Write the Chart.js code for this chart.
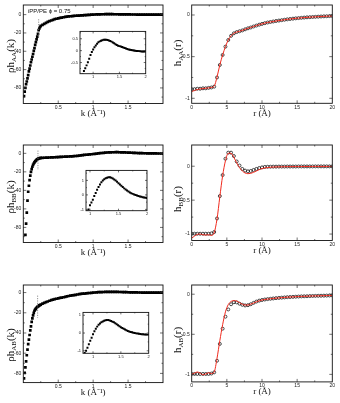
<!DOCTYPE html>
<html><head><meta charset="utf-8">
<script src="https://cdn.jsdelivr.net/npm/chart.js@4.4.1/dist/chart.umd.min.js"></script>
<style>
html,body{margin:0;padding:0;background:#fff;}
#wrap{position:relative;width:340px;height:403px;overflow:hidden;font-family:"Liberation Serif",serif;}
canvas{position:absolute;}
.yt{position:absolute;white-space:nowrap;font-size:11px;color:#111;transform:translate(-50%,-50%) rotate(-90deg);line-height:1;}
.yt sub{font-size:7px;vertical-align:-2px;}
.note{position:absolute;font-family:"Liberation Sans",sans-serif;font-size:6px;color:#111;white-space:nowrap;}
</style></head><body><div id="wrap"></div>
<script>
// k grid (1/A) shared by the three structure-factor panels and their insets
var kMain = [0.01,0.02,0.03,0.04,0.05,0.06,0.07,0.08,0.09,0.10,0.11,0.12,0.13,0.14,0.15,0.16,0.17,0.18,0.19,0.20,0.21,0.22,0.23,0.24,0.25,
  0.275,0.3,0.325,0.35,0.375,0.4,0.425,0.45,0.475,0.5,
  0.525,0.55,0.575,0.6,0.625,0.65,0.675,0.7,0.725,0.75,
  0.775,0.8,0.825,0.85,0.875,0.9,0.925,0.95,0.975,1.0,
  1.025,1.05,1.075,1.1,1.125,1.15,1.175,1.2,1.225,1.25,
  1.275,1.3,1.325,1.35,1.375,1.4,1.425,1.45,1.475,1.5,
  1.525,1.55,1.575,1.6,1.625,1.65,1.675,1.7,1.725,1.75,
  1.775,1.8,1.825,1.85,1.875,1.9,1.925,1.95,1.975,2.0];

var rhoAA = [-89,-84,-80,-76,-73,-69.5,-66,-62,-59,-55.5,-52,-49,-46,-43,-39.5,-36.5,-33,-30,-27,-24,-21,-17,-15,-13.5,-12.3,
  -11.2,-10.0,-9.0,-8.0,-7.2,-6.4,-5.7,-5.0,-4.5,-4.0,
  -3.6,-3.2,-2.85,-2.5,-2.25,-2.0,-1.8,-1.6,-1.4,-1.25,
  -1.12,-1.0,-0.86,-0.74,-0.62,-0.49,-0.34,-0.18,-0.06,0.05,
  0.14,0.22,0.29,0.35,0.39,0.42,0.44,0.455,0.46,0.46,
  0.45,0.43,0.41,0.38,0.34,0.31,0.27,0.24,0.21,0.19,
  0.17,0.15,0.13,0.11,0.09,0.07,0.05,0.04,0.03,0.02,
  0.01,0.0,-0.01,-0.015,-0.02,-0.03,-0.035,-0.04,-0.04,-0.04];

var rhoBB = [null,null,-88,-76,-64,-51,-41.5,-35,-29,-24,-20,-17,-14.5,-12.5,-11,-9.7,-8.7,-7.8,-7.0,-6.4,-5.9,-5.5,-5.3,-5.1,-5.0,
  -4.9,-4.8,-4.7,-4.6,-4.5,-4.4,-4.3,-4.2,-4.1,-4.0,
  -3.9,-3.8,-3.7,-3.6,-3.5,-3.4,-3.3,-3.2,-3.05,-2.9,
  -2.7,-2.5,-2.25,-2.0,-1.75,-1.5,-1.3,-1.15,-1.0,-0.72,
  -0.52,-0.33,-0.07,0.13,0.36,0.55,0.72,0.88,0.99,1.08,
  1.15,1.19,1.21,1.21,1.18,1.13,1.07,0.99,0.9,0.81,
  0.72,0.63,0.54,0.45,0.37,0.3,0.23,0.17,0.12,0.07,
  0.03,-0.01,-0.04,-0.08,-0.11,-0.13,-0.16,-0.18,-0.2,-0.22];

var rhoAB = [-85,-79.5,-74,-68,-62,-56.5,-51,-46.5,-42,-37.5,-33.5,-29,-25.5,-22.5,-20,-18,-16.8,-15.8,-15,-14.3,-13.7,-13.2,-12.7,-12.3,-11.9,
  -11.0,-10.2,-9.5,-8.8,-8.1,-7.5,-7.0,-6.5,-6.1,-5.7,
  -5.3,-5.0,-4.6,-4.2,-3.8,-3.4,-3.1,-2.8,-2.5,-2.2,
  -1.9,-1.6,-1.35,-1.12,-1.0,-0.83,-0.63,-0.44,-0.26,-0.07,
  0.1,0.24,0.36,0.46,0.54,0.6,0.65,0.69,0.72,0.73,
  0.73,0.71,0.68,0.64,0.6,0.55,0.49,0.44,0.38,0.33,
  0.28,0.24,0.2,0.16,0.12,0.09,0.06,0.04,0.02,0.0,
  -0.02,-0.03,-0.045,-0.055,-0.065,-0.075,-0.08,-0.085,-0.09,-0.09];

// dotted markers near k ~ 0.2
var dashKAA = [0.22, 0.22], dashAA = [-5, -26];
var dashKBB = [0.21, 0.21], dashBB = [3, -18];
var dashKAB = [0.205, 0.205], dashAB = [-3, -25];

// r grid (A) for the pair correlation panels
var rGrid = [0,0.4,0.8,1.2,1.6,2,2.4,2.8,3.2,3.6,
  4,4.4,4.8,5.2,5.6,6,6.4,6.8,7.2,7.6,
  8,8.4,8.8,9.2,9.6,10,10.4,10.8,11.2,11.6,
  12,12.4,12.8,13.2,13.6,14,14.4,14.8,15.2,15.6,
  16,16.4,16.8,17.2,17.6,18,18.4,18.8,19.2,19.6,
  20];

var hAAsim = [-0.89,-0.89,-0.885,-0.885,-0.88,-0.88,-0.875,-0.87,-0.86,-0.75,
  -0.6,-0.48,-0.38,-0.3,-0.25,-0.22,-0.205,-0.195,-0.185,-0.172,
  -0.16,-0.15,-0.138,-0.127,-0.116,-0.107,-0.098,-0.09,-0.084,-0.078,
  -0.072,-0.067,-0.062,-0.057,-0.052,-0.048,-0.044,-0.04,-0.037,-0.034,
  -0.031,-0.028,-0.026,-0.024,-0.022,-0.02,-0.018,-0.016,-0.015,-0.013,
  -0.012];
var hAAthe = [-0.92,-0.905,-0.895,-0.888,-0.883,-0.879,-0.875,-0.87,-0.855,-0.745,
  -0.6,-0.48,-0.38,-0.3,-0.25,-0.22,-0.205,-0.195,-0.185,-0.172,
  -0.16,-0.15,-0.138,-0.127,-0.116,-0.107,-0.098,-0.09,-0.084,-0.078,
  -0.072,-0.067,-0.062,-0.057,-0.052,-0.048,-0.044,-0.04,-0.037,-0.034,
  -0.031,-0.028,-0.026,-0.024,-0.022,-0.02,-0.018,-0.016,-0.015,-0.013,
  -0.012];

var hBBsim = [-0.995,-0.995,-0.995,-0.995,-0.995,-0.995,-0.995,-0.99,-0.97,-0.77,
  -0.44,-0.13,0.11,0.2,0.2,0.15,0.07,0.01,-0.04,-0.065,
  -0.075,-0.07,-0.055,-0.04,-0.027,-0.017,-0.01,-0.008,-0.007,-0.006,
  -0.006,-0.005,-0.005,-0.005,-0.004,-0.004,-0.004,-0.004,-0.003,-0.003,
  -0.003,-0.003,-0.003,-0.003,-0.002,-0.002,-0.002,-0.002,-0.002,-0.002,
  -0.002];
var hBBthe = [-1.06,-1.03,-1.005,-1.0,-1.01,-1.015,-1.01,-1.02,-0.98,-0.78,
  -0.45,-0.14,0.08,0.19,0.19,0.13,0.05,-0.02,-0.07,-0.1,
  -0.11,-0.105,-0.09,-0.07,-0.05,-0.035,-0.025,-0.02,-0.015,-0.012,
  -0.01,-0.009,-0.008,-0.007,-0.006,-0.006,-0.005,-0.005,-0.005,-0.004,
  -0.004,-0.004,-0.004,-0.003,-0.003,-0.003,-0.003,-0.003,-0.003,-0.003,
  -0.003];

var hABsim = [-0.995,-0.995,-0.995,-0.995,-0.995,-0.995,-0.995,-0.99,-0.975,-0.83,
  -0.62,-0.43,-0.28,-0.19,-0.125,-0.1,-0.102,-0.118,-0.132,-0.14,
  -0.137,-0.125,-0.108,-0.092,-0.08,-0.072,-0.066,-0.061,-0.057,-0.053,
  -0.049,-0.046,-0.043,-0.04,-0.037,-0.035,-0.033,-0.031,-0.029,-0.027,
  -0.026,-0.025,-0.023,-0.022,-0.021,-0.02,-0.019,-0.018,-0.017,-0.016,
  -0.015];
var hABthe = [-1.0,-0.985,-0.97,-0.985,-1.005,-0.995,-0.98,-0.99,-0.97,-0.8,
  -0.58,-0.38,-0.22,-0.13,-0.09,-0.08,-0.085,-0.105,-0.125,-0.135,
  -0.135,-0.125,-0.11,-0.095,-0.082,-0.072,-0.066,-0.061,-0.057,-0.053,
  -0.049,-0.046,-0.043,-0.04,-0.037,-0.035,-0.033,-0.031,-0.029,-0.027,
  -0.026,-0.025,-0.023,-0.022,-0.021,-0.02,-0.019,-0.018,-0.017,-0.016,
  -0.015];

// tick labels
var kTicks = [0.5, 1, 1.5], kMinor = [0.25, 0.75, 1.25, 1.75];
var rhoTicks = [-80, -60, -40, -20, 0], rhoMinor = [-90, -70, -50, -30, -10];
var rTicks = [0, 5, 10, 15, 20], rMinor = [2.5, 7.5, 12.5, 17.5];
var hTicks = [-1, -0.5, 0], hMinor = [-0.75, -0.25];
var inKTicks = [1, 1.5, 2], inKMinor = [0.75, 1.25, 1.75];
var inAATicks = [-0.5, 0, 0.5], inAAMinor = [-0.75, -0.25, 0.25, 0.75];
var inTicks = [-1, 0, 1], inMinor = [-0.5, 0.5, 1.5];

Chart.defaults.font.family = '"Liberation Sans", sans-serif';
var wrap = document.getElementById('wrap');

function pts(xs, ys) {
  var out = [];
  xs.forEach(function (x, i) { if (ys[i] !== null) out.push({ x: x, y: ys[i] }); });
  return out;
}

// white plot background (insets), frame and inward tick marks
var frame = {
  id: 'frame',
  beforeDraw: function (c, a, o) {
    if (!o.fill) return;
    var ca = c.chartArea;
    c.ctx.fillStyle = '#fff';
    c.ctx.fillRect(ca.left, ca.top, ca.width, ca.height);
  },
  afterDraw: function (c, a, o) {
    var ctx = c.ctx, ca = c.chartArea, xs = c.scales.x, ys = c.scales.y;
    var L = o.len;
    ctx.save();
    ctx.strokeStyle = '#333';
    ctx.lineWidth = 0.7;
    ctx.beginPath();
    function xm(v, len) {
      var p = xs.getPixelForValue(v);
      if (p <= ca.left + 0.5 || p >= ca.right - 0.5) return;
      ctx.moveTo(p, ca.bottom); ctx.lineTo(p, ca.bottom - len);
      ctx.moveTo(p, ca.top); ctx.lineTo(p, ca.top + len);
    }
    function ym(v, len) {
      var p = ys.getPixelForValue(v);
      if (p <= ca.top + 0.5 || p >= ca.bottom - 0.5) return;
      ctx.moveTo(ca.left, p); ctx.lineTo(ca.left + len, p);
      ctx.moveTo(ca.right, p); ctx.lineTo(ca.right - len, p);
    }
    xs.ticks.forEach(function (t) { xm(t.value, L); });
    ys.ticks.forEach(function (t) { ym(t.value, L); });
    (o.xMinor || []).forEach(function (v) { xm(v, L / 2); });
    (o.yMinor || []).forEach(function (v) { ym(v, L / 2); });
    ctx.stroke();
    ctx.lineWidth = 0.9;
    ctx.strokeStyle = '#111';
    ctx.strokeRect(ca.left, ca.top, ca.width, ca.height);
    ctx.restore();
  }
};

// plot: [x0, y0, x1, y1] of the framed area in page pixels
function panel(o) {
  var p = o.plot, yw = o.yw, xh = o.xh;
  var left = p[0] - yw, top = p[1] - o.padTop;
  var w = Math.round(p[2] + o.padRight - left);
  var h = Math.ceil(p[3] + xh + 2 - top);
  var cv = document.createElement('canvas');
  cv.width = w; cv.height = h;
  cv.style.left = left + 'px'; cv.style.top = top + 'px';
  wrap.appendChild(cv);
  var padRight = left + w - p[2];
  var padBottom = top + h - (p[3] + xh);
  return new Chart(cv, {
    type: 'scatter',
    data: { datasets: o.datasets },
    options: {
      responsive: false, animation: false, devicePixelRatio: 1,
      layout: { padding: { left: 0, top: o.padTop, right: padRight, bottom: padBottom } },
      plugins: {
        legend: { display: false }, tooltip: { enabled: false },
        frame: { len: o.tickLen, xMinor: o.xMinor, yMinor: o.yMinor, fill: o.fill }
      },
      scales: {
        x: {
          type: 'linear', min: o.xr[0], max: o.xr[1],
          grid: { display: false, drawTicks: false }, border: { display: false },
          ticks: { font: { size: o.fs }, color: '#222', padding: 1, maxRotation: 0, autoSkip: false,
                   callback: function (v) { return String(v); } },
          afterBuildTicks: function (s) { s.ticks = o.xt.map(function (v) { return { value: v }; }); },
          afterFit: function (s) { s.height = xh; },
          title: o.xtitle ? { display: true, text: o.xtitle, color: '#111', padding: 0,
                              font: { size: 9, family: '"Liberation Serif", serif' } } : { display: false }
        },
        y: {
          type: 'linear', min: o.yr[0], max: o.yr[1],
          grid: { display: false, drawTicks: false }, border: { display: false },
          ticks: { font: { size: o.fs }, color: '#222', padding: 2, autoSkip: false,
                   callback: function (v) { return String(v); } },
          afterBuildTicks: function (s) { s.ticks = o.yt.map(function (v) { return { value: v }; }); },
          afterFit: function (s) { s.width = yw; }
        }
      }
    },
    plugins: [frame]
  });
}

function squares(vals, r) {
  return { data: pts(kMain, vals), showLine: false, pointStyle: 'rect', pointRadius: r,
           backgroundColor: '#000', borderWidth: 0, clip: 0 };
}
function dotted(kx, vy) {
  return { data: pts(kx, vy), showLine: true, borderColor: '#777', borderWidth: 0.8,
           borderDash: [1.2, 1.2], pointRadius: 0, clip: 0 };
}
function circles(vals) {
  return { data: pts(rGrid, vals), showLine: false, pointStyle: 'circle', pointRadius: 1.5,
           borderColor: '#000', borderWidth: 0.7, backgroundColor: 'rgba(0,0,0,0)', clip: 0 };
}
function theory(vals) {
  return { data: pts(rGrid, vals), showLine: true, borderColor: '#f02a1e', borderWidth: 1,
           pointRadius: 0, cubicInterpolationMode: 'monotone', clip: 0 };
}

function leftPanel(plot, yr, vals, dk, dv) {
  panel({ plot: plot, yw: 23.3, xh: 15.4, padTop: 4.3, padRight: 7, fs: 5, tickLen: 3,
          xr: [0, 2], yr: yr, xt: kTicks, yt: rhoTicks, xMinor: kMinor, yMinor: rhoMinor,
          xtitle: 'k (Å⁻¹)', datasets: [dotted(dk, dv), squares(vals, 1.9)] });
}
function rightPanel(plot, yr, sim, the) {
  panel({ plot: plot, yw: 21.7, xh: 15.4, padTop: 4.3, padRight: 7.7, fs: 5, tickLen: 3,
          xr: [0, 20], yr: yr, xt: rTicks, yt: hTicks, xMinor: rMinor, yMinor: hMinor,
          xtitle: 'r (Å)', datasets: [theory(the), circles(sim)] });
}
function inset(plot, xr, yr, vals, yt, yMinor) {
  panel({ plot: plot, yw: 11, xh: 6, padTop: 3, padRight: 4, fs: 4, tickLen: 2, fill: true,
          xr: xr, yr: yr, xt: inKTicks, yt: yt, xMinor: inKMinor, yMinor: yMinor,
          datasets: [squares(vals, 1.4)] });
}

leftPanel([23.3, 4.3, 163, 103.5], [-97, 10.5], rhoAA, dashKAA, dashAA);
rightPanel([191.7, 4.3, 332.3, 103.3], [-1.06, 0.12], hAAsim, hAAthe);
leftPanel([23.3, 144.3, 163, 242.5], [-96.3, 9], rhoBB, dashKBB, dashBB);
rightPanel([191.7, 144.3, 332.3, 240.5], [-1.095, 0.313], hBBsim, hBBthe);
leftPanel([23.3, 284.7, 163, 383], [-89.1, 7.5], rhoAB, dashKAB, dashAB);
rightPanel([191.7, 284.7, 332.3, 382.3], [-1.094, 0.115], hABsim, hABthe);

inset([80, 30, 145.7, 73.7], [0.75, 2], [-0.97, 0.81], rhoAA, inAATicks, inAAMinor);
inset([86, 169, 147, 210.7], [0.93, 2], [-1.09, 1.69], rhoBB, inTicks, inMinor);
inset([83.3, 311, 149, 353.3], [0.82, 2], [-1.14, 1.16], rhoAB, inTicks, inMinor);

// axis titles with subscripts
function ytitle(html, cx, cy) {
  var d = document.createElement('div');
  d.className = 'yt'; d.innerHTML = html;
  d.style.left = cx + 'px'; d.style.top = cy + 'px';
  wrap.appendChild(d);
}
ytitle('ρh<sub>AA</sub>(k)', 11, 56);
ytitle('h<sub>AA</sub>(r)', 178, 53);
ytitle('ρh<sub>BB</sub>(k)', 11, 197);
ytitle('h<sub>BB</sub>(r)', 178, 199);
ytitle('ρh<sub>AB</sub>(k)', 11, 345);
ytitle('h<sub>AB</sub>(r)', 178, 340);

var note = document.createElement('div');
note.className = 'note';
note.textContent = 'iPP/PE ϕ = 0.75';
note.style.left = '28px'; note.style.top = '8px';
wrap.appendChild(note);
</script>
</body></html>
